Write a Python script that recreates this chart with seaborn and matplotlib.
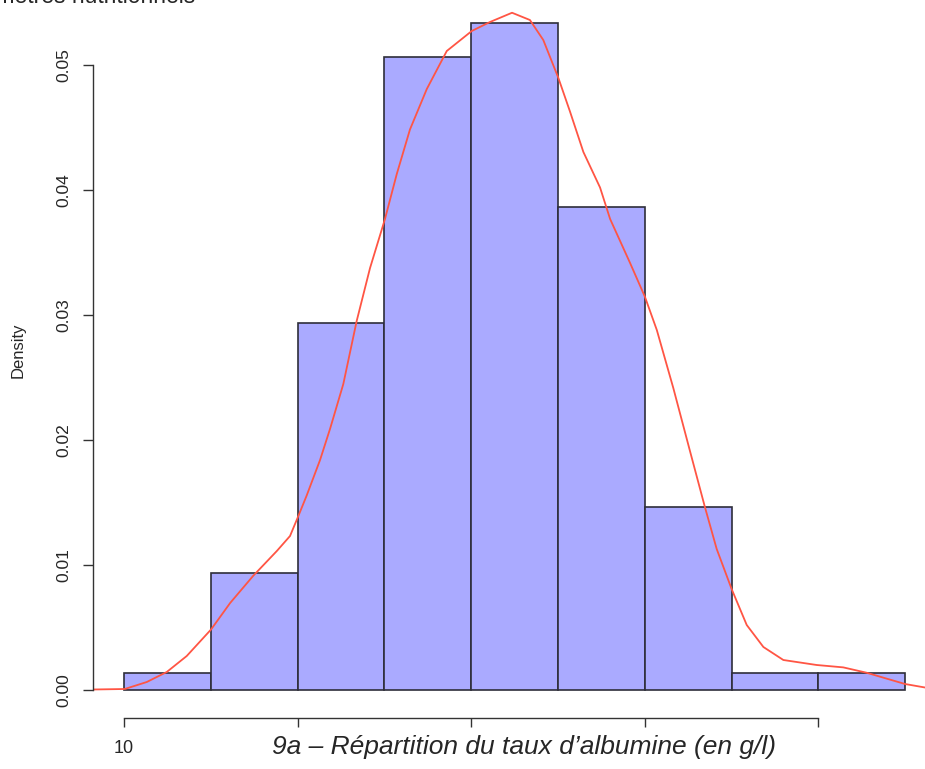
import numpy as np
import matplotlib
matplotlib.use("Agg")
import matplotlib.pyplot as plt
import seaborn as sns

# ============================================================
# DONNÉES
# ============================================================

bin_edges = [10, 15, 20, 25, 30, 35, 40, 45, 50, 55]
densites = [0.00133, 0.00933, 0.02933, 0.05067, 0.05333, 0.03867, 0.01467, 0.00133, 0.00133]

# courbe de densité
courbe_x = [8.2, 10.04, 11.31, 12.46, 13.61, 15.01, 16.11, 17.43, 18.80, 19.56,
            20.04, 20.52, 21.29, 21.87, 22.63, 23.40, 24.17, 25.03, 25.71, 26.47,
            27.44, 28.59, 30.03, 31.08, 32.35, 33.38, 34.15, 35.02, 35.69, 36.46,
            37.42, 38.00, 39.15, 40.01, 40.69, 41.64, 42.60, 43.46, 44.14, 45.00,
            45.87, 46.83, 47.98, 49.90, 51.43, 52.78, 53.93, 54.99, 56.14]
courbe_y = [0.00004, 0.00008, 0.00064, 0.00144, 0.00272, 0.00484, 0.00696, 0.00912, 0.01112, 0.01232,
            0.01392, 0.01556, 0.0184, 0.02091, 0.02448, 0.02952, 0.03376, 0.03768, 0.04128, 0.04484,
            0.04808, 0.05112, 0.05272, 0.05344, 0.05418, 0.0536, 0.052, 0.04896, 0.04627, 0.04304,
            0.0402, 0.03768, 0.03416, 0.03144, 0.0288, 0.02416, 0.01912, 0.01464, 0.01128, 0.00808,
            0.0052, 0.00344, 0.0024, 0.002, 0.00181, 0.00138, 0.00091, 0.00048, 0.0002]

x_ticks = [10, 20, 30, 40, 50]
x_tick_labels = ["10", "", "", "", ""]
y_ticks = [0.00, 0.01, 0.02, 0.03, 0.04, 0.05]
y_tick_labels = ["0.00", "0.01", "0.02", "0.03", "0.04", "0.05"]

# ============================================================
# FIGURE
# ============================================================

sns.set_style("ticks")
plt.rcParams["font.family"] = ["Liberation Sans", "DejaVu Sans"]

W, H = 925, 769
fig = plt.figure(figsize=(W / 100, H / 100), dpi=100)
ax = fig.add_axes([93 / W, (H - 718) / H, (W - 93) / W, 718 / H])

centres = [(a + b) / 2 for a, b in zip(bin_edges[:-1], bin_edges[1:])]
sns.histplot(x=centres, weights=densites, bins=bin_edges, stat="count",
             color="#AAAAFF", edgecolor="#2E2E3A", linewidth=1.2, alpha=1,
             ax=ax)
sns.lineplot(x=courbe_x, y=courbe_y, color="#FF5544", linewidth=1.3,
             solid_joinstyle="round", solid_capstyle="round", ax=ax)

ax.set_xlim(8.21, 56.14)
ax.set_ylim(-0.00224, 0.0552)

for s in ["top", "right"]:
    ax.spines[s].set_visible(False)
for s in ["left", "bottom"]:
    ax.spines[s].set_color("#333333")
    ax.spines[s].set_linewidth(1.0)
ax.spines["left"].set_bounds(0, 0.05)
ax.spines["bottom"].set_bounds(10, 50)

ax.set_xticks(x_ticks)
ax.set_xticklabels(x_tick_labels, fontsize=13)
ax.set_yticks(y_ticks)
ax.set_yticklabels(y_tick_labels, fontsize=12.5, rotation=90, va="center")
ax.tick_params(axis="y", left=True, direction="out", length=7.2, width=1.0,
               color="#333333", pad=8.5)
ax.tick_params(axis="x", bottom=True, direction="out", length=6.5, width=1.0,
               color="#333333", pad=9.5)

ax.set_xlabel("")
ax.set_ylabel("Density", fontsize=12)
ax.yaxis.set_label_coords(-0.0805, 0.5125)

fig.text(524 / W, (H - 747) / H, "9a \u2013 R\u00e9partition du taux d\u2019albumine (en g/l)",
         ha="center", va="center", fontsize=19, style="italic")
fig.text(195 / W, 1 - 3 / H, "Param\u00e8tres nutritionnels",
         ha="right", va="baseline", fontsize=16.5)

fig.savefig("out.png", dpi=100)
